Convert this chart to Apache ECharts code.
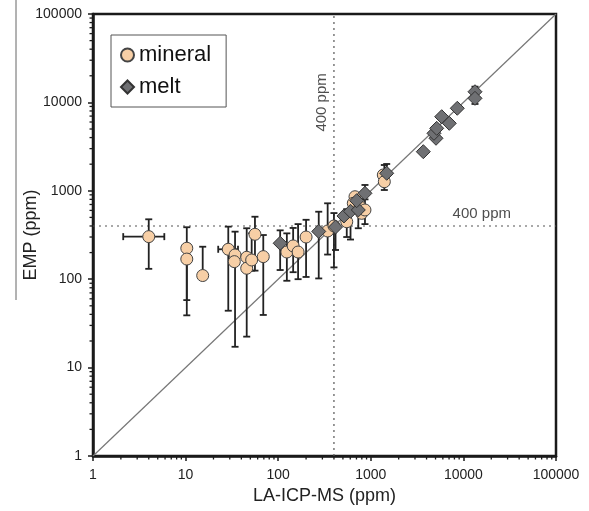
<!DOCTYPE html>
<html><head><meta charset="utf-8">
<script src="https://cdn.jsdelivr.net/npm/echarts@6/dist/echarts.min.js"></script>
<style>html,body{margin:0;padding:0;background:#fff}#c{width:589px;height:511px}</style>
</head><body><div id="c"></div>
<script>
// ---- data (ppm) ----
const mineralX   = [4.0, 10.3, 10.3, 15.3, 28.9, 34.2, 33.6, 45.7, 45.7, 51.7, 56.1, 69, 124, 145, 164, 200, 342, 400, 550, 675, 647, 764, 798, 865, 1365, 1400];
const mineralY   = [303, 224, 169, 110, 218, 188, 158, 177, 133, 165, 322, 180, 203, 238, 203, 300, 351, 400, 447, 857, 722, 661, 556, 607, 1510, 1267];
const mineralYLo = [131, 58, 39, null, 44, 17.2, null, 22.4, null, 125, 125, 39.4, 96, 120, 100, 106, 190, 136, 300, null, null, null, null, 420, null, 1021];
const mineralYHi = [476, 387, 250, 233, 393, 345, null, 377, null, 330, 509, 316, 330, 380, 420, 470, 722, 560, 620, null, null, null, null, 800, null, 1958];
const mineralXLo = [2.12, null, null, null, 22.5, null, null, null, null, null, null, null, null, null, null, null, null, null, null, null, null, null, null, null, null, null];
const mineralXHi = [5.89, null, null, null, 36.8, null, null, null, null, null, null, null, null, null, null, null, null, null, null, null, null, null, null, null, null, null];

const meltX   = [105, 274, 416, 513, 604, 733, 704, 865, 1485, 3690, 5060, 4810, 5150, 5830, 7040, 8590, 13340, 13340];
const meltY   = [255, 347, 389, 519, 586, 607, 773, 937, 1578, 2770, 3928, 4470, 5090, 6890, 5800, 8580, 13200, 11120];
const meltYLo = [127, 102, 214, null, 281, 377, null, null, null, null, null, null, null, null, null, null, 11500, 9600];
const meltYHi = [357, 580, null, null, null, null, null, 1164, 2010, null, null, null, null, null, null, null, 15070, 12500];

const xTicks = [1, 10, 100, 1000, 10000, 100000];
const yTicks = [1, 10, 100, 1000, 10000, 100000];
const threshold = 400;
const thresholdLabel = '400 ppm';
const seriesNames = ['mineral', 'melt'];

// minor tick values of a log axis (2..9 x each decade)
const minorTicks = [];
for (let k = 0; k < 5; k++) for (let m = 2; m <= 9; m++) minorTicks.push(m * Math.pow(10, k));

const FONT = 'Liberation Sans, Arial, sans-serif';

function pairs(xs, ys) { return xs.map((x, i) => [x, ys[i]]); }

function errRenderer(xs, ys, ylo, yhi, xlo, xhi) {
  return function (params, api) {
    const i = params.dataIndex;
    const x = xs[i], y = ys[i];
    const st = { stroke: '#222', lineWidth: 1.8 };
    const cap = 3.5;
    const ch = [];
    if (ylo[i] != null || yhi[i] != null) {
      const a = api.coord([x, ylo[i] != null ? ylo[i] : y]);
      const b = api.coord([x, yhi[i] != null ? yhi[i] : y]);
      ch.push({ type: 'line', shape: { x1: a[0], y1: a[1], x2: b[0], y2: b[1] }, style: st });
      if (ylo[i] != null) ch.push({ type: 'line', shape: { x1: a[0] - cap, y1: a[1], x2: a[0] + cap, y2: a[1] }, style: st });
      if (yhi[i] != null) ch.push({ type: 'line', shape: { x1: b[0] - cap, y1: b[1], x2: b[0] + cap, y2: b[1] }, style: st });
    }
    if (xlo && (xlo[i] != null || xhi[i] != null)) {
      const a = api.coord([xlo[i] != null ? xlo[i] : x, y]);
      const b = api.coord([xhi[i] != null ? xhi[i] : x, y]);
      ch.push({ type: 'line', shape: { x1: a[0], y1: a[1], x2: b[0], y2: b[1] }, style: st });
      if (xlo[i] != null) ch.push({ type: 'line', shape: { x1: a[0], y1: a[1] - cap, x2: a[0], y2: a[1] + cap }, style: st });
      if (xhi[i] != null) ch.push({ type: 'line', shape: { x1: b[0], y1: b[1] - cap, x2: b[0], y2: b[1] + cap }, style: st });
    }
    return { type: 'group', children: ch };
  };
}

const fmt = v => String(Math.round(v));

const chart = echarts.init(document.getElementById('c'), null, { renderer: 'canvas' });
chart.setOption({
  animation: false,
  backgroundColor: '#fff',
  textStyle: { fontFamily: FONT },
  grid: { left: 93, right: 33, top: 14, bottom: 55, show: true, borderColor: '#1a1a1a', borderWidth: 2.5, backgroundColor: 'transparent' },
  legend: {
    data: [{ name: seriesNames[0], icon: 'circle' }, { name: seriesNames[1], icon: 'diamond' }],
    orient: 'vertical', left: 111, top: 35,
    padding: [9, 15, 9, 9], itemGap: 10, itemWidth: 13, itemHeight: 13,
    borderColor: '#555', borderWidth: 1,
    textStyle: { fontSize: 22, color: '#111', fontFamily: FONT }
  },
  xAxis: {
    type: 'log', logBase: 10, min: xTicks[0], max: xTicks[xTicks.length - 1],
    name: 'LA-ICP-MS (ppm)', nameLocation: 'middle', nameGap: 30,
    nameTextStyle: { fontSize: 18, color: '#222', fontFamily: FONT },
    axisLine: { lineStyle: { color: '#1a1a1a', width: 2.5 } },
    axisTick: { length: 5, lineStyle: { color: '#1a1a1a', width: 1.5 } },
    axisLabel: { fontSize: 14, color: '#222', margin: 12, fontFamily: FONT, formatter: fmt },
    splitLine: { show: false }
  },
  yAxis: {
    type: 'log', logBase: 10, min: yTicks[0], max: yTicks[yTicks.length - 1],
    name: 'EMP (ppm)', nameLocation: 'middle', nameGap: 53, nameMoveOverlap: false,
    nameTextStyle: { fontSize: 18, color: '#222', fontFamily: FONT },
    axisLine: { lineStyle: { color: '#1a1a1a', width: 2.5 } },
    axisTick: { length: 5, lineStyle: { color: '#1a1a1a', width: 1.5 } },
    axisLabel: { fontSize: 14, color: '#222', margin: 11, fontFamily: FONT, formatter: fmt },
    splitLine: { show: false }
  },
  graphic: [
    { type: 'line', shape: { x1: 16, y1: 0, x2: 16, y2: 300 }, style: { stroke: '#666', lineWidth: 1 } }
  ],
  series: [
    { // minor ticks, x axis
      type: 'custom', silent: true, clip: false, z: 1,
      data: minorTicks.map(v => [v, yTicks[0]]),
      renderItem: (p, api) => { const c = api.coord([api.value(0), api.value(1)]);
        return { type: 'line', shape: { x1: c[0], y1: c[1], x2: c[0], y2: c[1] + 3.5 }, style: { stroke: '#1a1a1a', lineWidth: 1.3 } }; }
    },
    { // minor ticks, y axis
      type: 'custom', silent: true, clip: false, z: 1,
      data: minorTicks.map(v => [xTicks[0], v]),
      renderItem: (p, api) => { const c = api.coord([api.value(0), api.value(1)]);
        return { type: 'line', shape: { x1: c[0], y1: c[1], x2: c[0] - 3.5, y2: c[1] }, style: { stroke: '#1a1a1a', lineWidth: 1.3 } }; }
    },
    { // 1:1 line
      type: 'line', data: [[xTicks[0], yTicks[0]], [xTicks[5], yTicks[5]]], symbol: 'none', silent: true, z: 1,
      lineStyle: { color: '#777', width: 1.2 }
    },
    { // vertical 400 ppm
      type: 'line', data: [[threshold, yTicks[0]], [threshold, yTicks[5]]], symbol: 'none', silent: true, z: 1,
      lineStyle: { color: '#555', width: 1.2, type: [2, 4] }
    },
    { // horizontal 400 ppm
      type: 'line', data: [[xTicks[0], threshold], [xTicks[5], threshold]], symbol: 'none', silent: true, z: 1,
      lineStyle: { color: '#555', width: 1.2, type: [2, 4] }
    },
    { // labels for 400 ppm lines
      type: 'scatter', symbolSize: 0, silent: true, z: 1,
      data: [
        { value: [threshold, 10000], label: { show: true, formatter: thresholdLabel, rotate: 90, position: 'inside', offset: [0, -12], fontSize: 15, color: '#222', fontFamily: FONT } },
        { value: [15800, threshold], label: { show: true, formatter: thresholdLabel, position: 'inside', offset: [0, -12], fontSize: 15, color: '#222', fontFamily: FONT } }
      ]
    },
    { type: 'custom', silent: true, z: 2, data: pairs(mineralX, mineralY),
      renderItem: errRenderer(mineralX, mineralY, mineralYLo, mineralYHi, mineralXLo, mineralXHi) },
    { type: 'custom', silent: true, z: 2, data: pairs(meltX, meltY),
      renderItem: errRenderer(meltX, meltY, meltYLo, meltYHi, null, null) },
    { name: seriesNames[0], type: 'scatter', symbol: 'circle', symbolSize: 12, z: 3,
      data: pairs(mineralX, mineralY),
      itemStyle: { color: '#f7cfa6', borderColor: '#444', borderWidth: 1, opacity: 1 } },
    { name: seriesNames[1], type: 'scatter', symbol: 'diamond', symbolSize: 14, z: 4,
      data: pairs(meltX, meltY),
      itemStyle: { color: '#6f7073', borderColor: '#333', borderWidth: 1, opacity: 1 } }
  ]
});
</script></body></html>
